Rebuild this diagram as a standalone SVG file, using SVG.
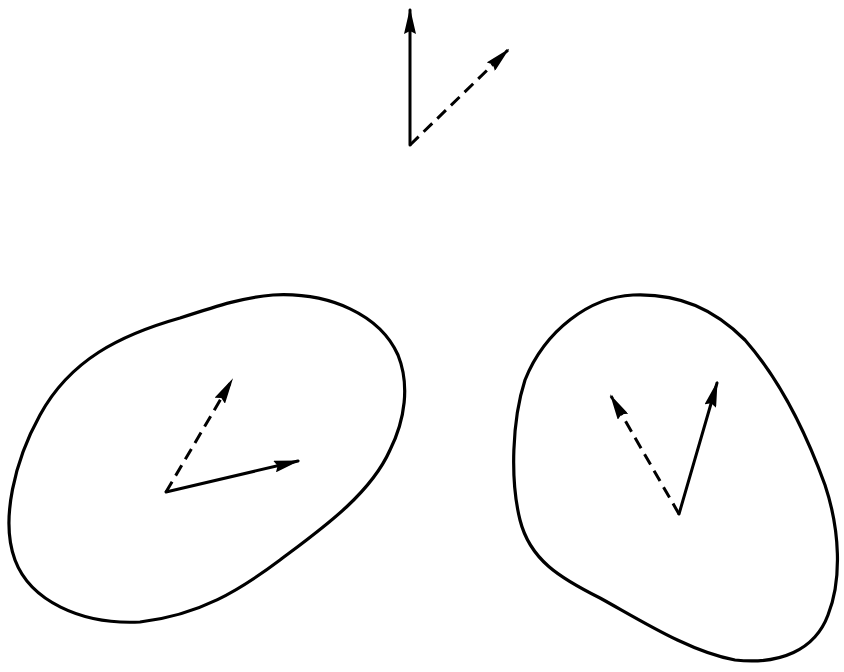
<svg xmlns="http://www.w3.org/2000/svg" width="844" height="672" viewBox="0 0 844 672">
<defs>
<style>
.line{fill:none;stroke:#000;stroke-width:3;stroke-linecap:round}
.dash{fill:none;stroke:#000;stroke-width:3;stroke-dasharray:12 7}
.blob{fill:none;stroke:#000;stroke-width:3.2}
</style>
<marker id="ah" viewBox="0 0 26 12" refX="24" refY="6" markerWidth="26" markerHeight="12" markerUnits="userSpaceOnUse" orient="auto">
<path d="M0,0 L26,6 L0,12 L3,6 Z" fill="#000"/>
</marker>
</defs>
<rect width="844" height="672" fill="#fff"/>
<g id="top-vectors">
<line class="line" x1="410" y1="145" x2="410" y2="10" marker-end="url(#ah)"/>
<line class="dash" x1="410" y1="145" x2="508" y2="50" marker-end="url(#ah)"/>
</g>
<g id="left-body">
<path class="blob" d="M273,295 C330,292 380,315 398,355 C410,385 405,420 390,450 C370,495 320,530 280,560 C240,590 200,615 140,622 C80,625 30,600 15,560 C0,520 15,460 40,415 C70,360 120,335 180,318 C220,305 245,297 273,295 Z"/>
<line class="dash" x1="166" y1="492" x2="232" y2="380" marker-end="url(#ah)"/>
<line class="line" x1="166" y1="492" x2="298" y2="461" marker-end="url(#ah)"/>
</g>
<g id="right-body">
<path class="blob" d="M633,295 C680,293 715,310 745,340 C780,380 805,430 825,485 C840,530 842,580 828,615 C815,650 780,665 735,660 C690,652 640,620 600,598 C560,578 530,560 520,520 C510,480 512,420 525,380 C545,330 590,297 633,295 Z"/>
<line class="dash" x1="679" y1="514" x2="611" y2="396" marker-end="url(#ah)"/>
<line class="line" x1="679" y1="514" x2="717" y2="383" marker-end="url(#ah)"/>
</g>
</svg>
